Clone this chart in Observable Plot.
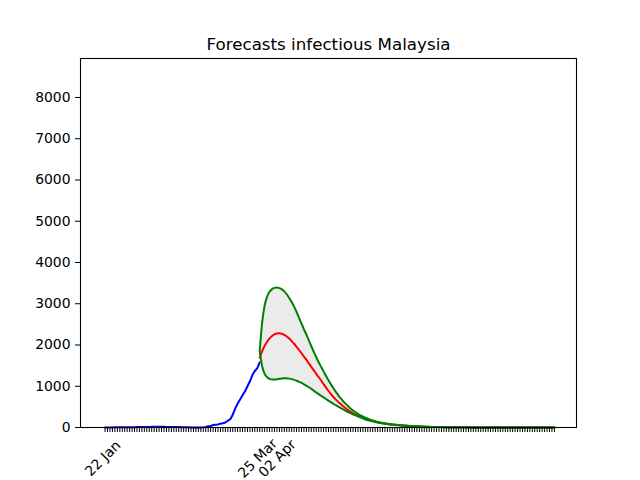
<!DOCTYPE html>
<html>
<head>
<meta charset="utf-8">
<script src="https://cdn.jsdelivr.net/npm/d3@7"></script>
<script src="https://cdn.jsdelivr.net/npm/@observablehq/plot@0.6"></script>
<style>
  html, body { margin: 0; padding: 0; background: #fff; }
  svg { display: block; }
</style>
</head>
<body>
<div id="chart"></div>
<script>
const title = "Forecasts infectious Malaysia";
const startDate = "2020-01-22";
const lastDay = 183;

// Observed infectious, one value per day from 22 Jan (day 0) to 25 Mar (day 63)
const observedInfectious = [
  0, 0, 0, 3, 4, 4, 4, 7, 8, 8,
  8, 8, 8, 10, 12, 12, 12, 14, 14, 16,
  16, 16, 17, 16, 16, 15, 14, 13, 12, 11,
  10, 8, 8, 6, 4, 3, 2, 1, 1, 2,
  7, 14, 28, 33, 61, 69, 75, 93, 105, 123,
  165, 200, 310, 460, 580, 680, 780, 880, 1000, 1120,
  1270, 1370, 1440, 1580
];

// Forecast days (days after 22 Jan)
const forecastDays = [
  63, 64, 65, 66, 67, 68, 69, 70, 71, 72,
  73, 74, 75, 76, 77, 78, 79, 80, 81, 82,
  83, 84, 85, 86, 87, 88, 89, 90, 91, 92,
  93, 94, 95, 96, 97, 98, 99, 100, 102, 104,
  106, 108, 110, 112, 115, 118, 121, 125, 130, 135,
  140, 150, 160, 170, 183
];
const forecastUpper = [
  1860, 2560, 2960, 3170, 3290, 3355, 3385, 3392, 3380, 3350,
  3300, 3230, 3140, 3040, 2930, 2800, 2660, 2520, 2380, 2250,
  2110, 1970, 1835, 1705, 1580, 1470, 1360, 1250, 1145, 1045,
  950, 862, 780, 705, 635, 572, 515, 462, 370, 295,
  237, 190, 152, 122, 90, 67, 50, 34, 21, 13,
  8, 3, 1, 0, 0
];
const forecastMedian = [
  1690, 1850, 1980, 2080, 2160, 2220, 2260, 2280, 2285, 2272,
  2245, 2205, 2155, 2095, 2030, 1955, 1880, 1800, 1720, 1640,
  1555, 1470, 1385, 1300, 1220, 1140, 1050, 965, 885, 810,
  740, 675, 620, 570, 515, 465, 420, 380, 310, 255,
  210, 172, 140, 114, 85, 64, 48, 33, 21, 13,
  8, 3, 1, 0, 0
];
const forecastLower = [
  1840, 1480, 1300, 1220, 1180, 1165, 1165, 1170, 1180, 1190,
  1195, 1192, 1185, 1172, 1155, 1133, 1108, 1080, 1048, 1013,
  975, 935, 893, 850, 808, 770, 730, 690, 650, 612,
  575, 540, 505, 470, 437, 405, 375, 347, 292, 245,
  195, 162, 134, 110, 82, 62, 46, 32, 20, 12,
  7, 3, 1, 0, 0
];

const yTicks = [0, 1000, 2000, 3000, 4000, 5000, 6000, 7000, 8000];
const yMax = 8945;
const xLabelDates = ["2020-01-22", "2020-03-25", "2020-04-02"];
const xLabelTexts = ["22 Jan", "25 Mar", "02 Apr"];

// ---- build tables ----
const start = new Date(startDate);
const dayToDate = d => d3.utcDay.offset(start, d);
const observed = observedInfectious.map((v, i) => ({date: dayToDate(i), value: v}));
const forecast = forecastDays.map((d, i) => ({
  date: dayToDate(d),
  upper: forecastUpper[i],
  median: forecastMedian[i],
  lower: forecastLower[i]
}));
const allDays = d3.utcDay.range(start, dayToDate(lastDay + 1));
const pad = lastDay * 0.05;
const xDomain = [dayToDate(-pad), dayToDate(lastDay + pad)];
const labelDates = xLabelDates.map(s => new Date(s));
const labelMap = new Map(labelDates.map((d, i) => [+d, xLabelTexts[i]]));

const chart = Plot.plot({
  width: 640,
  height: 480,
  marginLeft: 80,
  marginRight: 64,
  marginTop: 58,
  marginBottom: 53,
  style: {fontFamily: "DejaVu Sans", fontSize: "13.9px", color: "black", background: "white"},
  x: {type: "utc", domain: xDomain},
  y: {domain: [0, yMax]},
  marks: [
    Plot.areaY(forecast, {x: "date", y1: "lower", y2: "upper", fill: "#ebebeb", curve: "monotone-x"}),
    Plot.lineY(observed, {x: "date", y: "value", stroke: "blue", strokeWidth: 2}),
    Plot.lineY(forecast, {x: "date", y: "median", stroke: "red", strokeWidth: 2, curve: "monotone-x"}),
    Plot.lineY(forecast, {x: "date", y: "upper", stroke: "green", strokeWidth: 2, curve: "monotone-x"}),
    Plot.lineY(forecast, {x: "date", y: "lower", stroke: "green", strokeWidth: 2, curve: "monotone-x"}),
    Plot.frame({stroke: "black", strokeWidth: 1.1}),
    Plot.axisY({ticks: yTicks, tickSize: 5, tickPadding: 5, tickFormat: d => String(d), label: null, fontSize: 13.9}),
    Plot.axisX({ticks: allDays, tickSize: 5, tickFormat: () => "", label: null}),
    Plot.axisX({ticks: labelDates, tickSize: 0, tickPadding: 31, tickRotate: -45, textAnchor: "middle", lineAnchor: "middle", dx: -2, tickFormat: d => labelMap.get(+d), label: null, fontSize: 13.9}),
    Plot.text([title], {frameAnchor: "top", dy: -9, lineAnchor: "bottom", fontSize: 16.7, fill: "black"})
  ]
});
document.getElementById("chart").appendChild(chart);
</script>
</body>
</html>
